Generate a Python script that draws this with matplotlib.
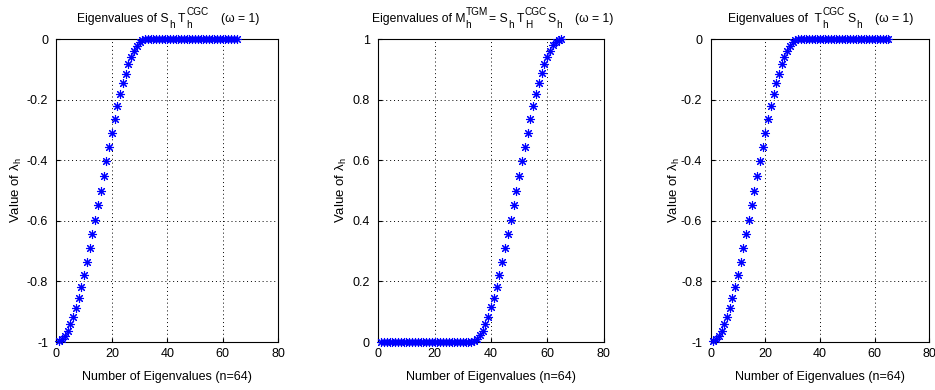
import matplotlib
matplotlib.use("Agg")
import matplotlib.pyplot as plt
from matplotlib import transforms

plt.rcParams['font.family'] = ['Liberation Sans', 'DejaVu Sans']
plt.rcParams['mathtext.fontset'] = 'custom'
plt.rcParams['mathtext.rm'] = 'Liberation Sans'
plt.rcParams['mathtext.it'] = 'Liberation Sans:italic'

# ---- data ----
x_index = list(range(1, 66))

left_vals = [-0.998, -0.990, -0.979, -0.962, -0.941, -0.916, -0.887, -0.854, -0.817, -0.778,
             -0.736, -0.691, -0.645, -0.598, -0.549, -0.500, -0.451, -0.402, -0.355, -0.309,
             -0.264, -0.222, -0.183, -0.146, -0.114, -0.084, -0.059, -0.038, -0.022, -0.010,
             -0.002] + [0.0] * 34

mid_vals = [0.0] * 33 + [0.002, 0.010, 0.022, 0.038, 0.059, 0.084, 0.114, 0.146, 0.183, 0.222,
                         0.264, 0.309, 0.355, 0.402, 0.451, 0.500, 0.549, 0.598, 0.645, 0.691,
                         0.736, 0.778, 0.817, 0.854, 0.887, 0.916, 0.941, 0.962, 0.979, 0.990,
                         0.998, 1.000]

right_vals = [-0.998, -0.990, -0.979, -0.962, -0.941, -0.916, -0.887, -0.854, -0.817, -0.778,
              -0.736, -0.691, -0.645, -0.598, -0.549, -0.500, -0.451, -0.402, -0.355, -0.309,
              -0.264, -0.222, -0.183, -0.146, -0.114, -0.084, -0.059, -0.038, -0.022, -0.010,
              -0.002] + [0.0] * 34

x_ticks = [0, 20, 40, 60, 80]
x_ticklabels = ['0', '20', '40', '60', '80']
neg_yticks = [-1, -0.8, -0.6, -0.4, -0.2, 0]
neg_yticklabels = ['-1', '-0.8', '-0.6', '-0.4', '-0.2', '0']
pos_yticks = [0, 0.2, 0.4, 0.6, 0.8, 1]
pos_yticklabels = ['0', '0.2', '0.4', '0.6', '0.8', '1']

# title pieces: ('n', text) normal, ('sub', text), ('subsup', sub, sup), ('gap', points)
title_parts = [
    [('n', 'Eigenvalues of S'), ('sub', 'h'), ('gap', 2.0), ('n', 'T'),
     ('subsup', 'h', 'CGC'), ('gap', 9), ('n', '(\u03c9 = 1)')],
    [('n', 'Eigenvalues of M'), ('subsup', 'h', 'TGM'), ('n', '= S'), ('sub', 'h'),
     ('gap', 2.0), ('n', 'T'), ('subsup', 'H', 'CGC'), ('n', 'S'), ('sub', 'h'),
     ('gap', 9), ('n', '(\u03c9 = 1)')],
    [('n', 'Eigenvalues of  T'), ('subsup', 'h', 'CGC'), ('gap', 1.5), ('n', 'S'), ('sub', 'h'),
     ('gap', 9), ('n', '(\u03c9 = 1)')],
]
title_x = [0.093, -0.03, 0.08]

xlabel = 'Number of Eigenvalues (n=64)'
ylabel = r'Value of $\mathrm{\lambda_h}$'

fig = plt.figure(figsize=(9.35, 3.9), dpi=100)
renderer = fig.canvas.get_renderer()

MAIN = 8.7
SCRIPT = 7.2
SUB_DY = -4.0
SUP_DY = 5.0


def put(ax, x0, y0, s, dx, dy, size):
    tr = transforms.offset_copy(ax.transAxes, fig=fig, x=dx, y=dy, units='points')
    t = ax.text(x0, y0, s, transform=tr, fontsize=size, ha='left', va='baseline')
    w = t.get_window_extent(renderer).width * 72.0 / fig.dpi
    return w


def fancy_title(ax, x0, y0, parts):
    x = 0.0
    for p in parts:
        kind = p[0]
        if kind == 'n':
            x += put(ax, x0, y0, p[1], x, 0, MAIN) + 0.5
        elif kind == 'sub':
            x += put(ax, x0, y0, p[1], x, SUB_DY, SCRIPT) + 0.3
        elif kind == 'subsup':
            w1 = put(ax, x0, y0, p[1], x, SUB_DY, SCRIPT)
            w2 = put(ax, x0, y0, p[2], x, SUP_DY, SCRIPT)
            x += max(w1, w2) + 0.3
        elif kind == 'gap':
            x += p[1]


positions = [
    [0.0604, 0.123, 0.237, 0.777],
    [0.4046, 0.123, 0.241, 0.777],
    [0.760, 0.123, 0.234, 0.777],
]
ylabel_x = [-0.147, -0.130, -0.131]
series = [left_vals, mid_vals, right_vals]
yticks = [neg_yticks, pos_yticks, neg_yticks]
yticklabels = [neg_yticklabels, pos_yticklabels, neg_yticklabels]
ylims = [(-1, 0), (0, 1), (-1, 0)]

for i in range(3):
    ax = fig.add_axes(positions[i])
    ax.plot(x_index, series[i], linestyle='none', marker=(8, 2, 0), markersize=6.5,
            markeredgewidth=0.8, color='#0000ff', clip_on=False, zorder=3)
    ax.set_xlim(0, 80)
    ax.set_ylim(*ylims[i])
    ax.set_xticks(x_ticks)
    ax.set_xticklabels(x_ticklabels)
    ax.set_yticks(yticks[i])
    ax.set_yticklabels(yticklabels[i])
    ax.tick_params(direction='in', length=3, labelsize=9, colors='black')
    ax.tick_params(axis='y', pad=6)
    ax.tick_params(axis='x', pad=4)
    ax.grid(True, linestyle=(0, (1, 3)), color='black', linewidth=0.7)
    for sp in ax.spines.values():
        sp.set_linewidth(0.8)
    fancy_title(ax, title_x[i], 1.056, title_parts[i])
    ax.set_xlabel(xlabel, fontsize=9, labelpad=8)
    ax.set_ylabel(ylabel, fontsize=9.5)
    ax.yaxis.set_label_coords(ylabel_x[i], 0.5)

fig.savefig('out.png', dpi=100)
